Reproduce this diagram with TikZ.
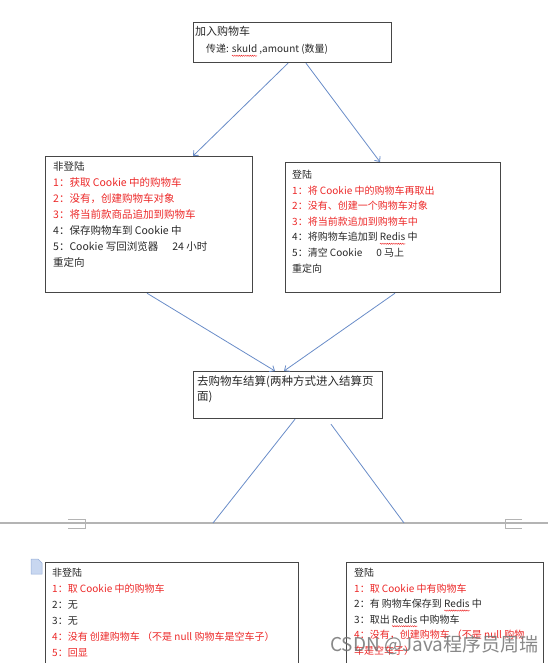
\documentclass[tikz,border=0pt]{standalone}
\usepackage{fontspec}
\setmainfont{Noto Sans CJK SC}
\usetikzlibrary{arrows.meta,calc,decorations.pathmorphing}
\definecolor{txtred}{RGB}{236,40,40}
\definecolor{txtblk}{RGB}{40,40,40}
\definecolor{boxgray}{RGB}{70,70,70}
\definecolor{arrowblue}{RGB}{105,140,200}
\definecolor{sepgray}{RGB}{180,180,180}
\definecolor{iconblue}{RGB}{200,215,240}
\newsavebox\wavebox
\newcommand\rwave[1]{\sbox\wavebox{#1}\rlap{\tikz[overlay,x=1pt,y=1pt]\draw[txtred,line width=0.45pt,decorate,decoration={snake,amplitude=0.6pt,segment length=2.2pt}] (0pt,-2.8pt) -- (\wd\wavebox,-2.8pt);}\usebox\wavebox}
\newcommand\rd[1]{\textcolor{txtred}{#1}}
\tikzset{
  box/.style={draw=boxgray, line width=1.2pt, inner sep=0pt, anchor=north west},
  txt/.style={anchor=north west, inner sep=0pt, align=left, text=txtblk},
  arr/.style={draw=arrowblue, line width=0.8pt, -{Straight Barb[length=4pt,width=7pt]}},
  conn/.style={draw=arrowblue, line width=0.8pt},
  sepline/.style={draw=sepgray, line width=1.6pt},
  brk/.style={draw=sepgray, line width=0.8pt},
}
\begin{document}
\begin{tikzpicture}[x=1pt,y=-1pt]
\useasboundingbox (0,0) rectangle (548,663);
% boxes
\node[box, minimum width=198pt, minimum height=40pt] (top) at (193,22) {};
\node[box, minimum width=207pt, minimum height=136pt] (nl) at (45,156) {};
\node[box, minimum width=215pt, minimum height=130pt] (nr) at (285,162) {};
\node[box, minimum width=189pt, minimum height=47pt] (nm) at (193,371) {};
\node[box, minimum width=253pt, minimum height=115pt] (bl) at (45,562) {};
\node[box, minimum width=197pt, minimum height=115pt] (br) at (346,562) {};
% texts
\node[txt, font=\fontsize{11}{17}\selectfont] (topt) at (195,26.5)
  {加入购物车\\\hspace*{11pt}{\fontsize{10}{17}\selectfont 传递: \rwave{skuId} ,amount (数量)}};
\node[txt, font=\fontsize{10.5}{16}\selectfont] (nlt) at (53,161.5)
  {非登陆\\
   \rd{1：获取 Cookie 中的购物车}\\
   \rd{2：没有，创建购物车对象}\\
   \rd{3：将当前款商品追加到购物车}\\
   4：保存购物车到 Cookie 中\\
   5：Cookie 写回浏览器\hspace{14pt}24 小时\\
   重定向};
\node[txt, font=\fontsize{10}{15.6}\selectfont] (nrt) at (292,170)
  {登陆\\
   \rd{1：将 Cookie 中的购物车再取出}\\
   \rd{2：没有、创建一个购物车对象}\\
   \rd{3：将当前款追加到购物车中}\\
   4：将购物车追加到 \rwave{Redis} 中\\
   5：清空 Cookie\hspace{14pt}0 马上\\
   重定向};
\node[txt, font=\fontsize{11.5}{14.5}\selectfont] (nmt) at (197,376)
  {去购物车结算(两种方式进入结算页\\面)};
\node[txt, font=\fontsize{10}{16}\selectfont] (blt) at (52,568)
  {非登陆\\
   \rd{1：取 Cookie 中的购物车}\\
   2：无\\
   3：无\\
   \rd{4：没有 创建购物车 （不是 null 购物车是空车子）}\\
   \rd{5：回显}};
\node[txt, font=\fontsize{10}{15.6}\selectfont] (brt) at (354,568)
  {登陆\\
   \rd{1：取 Cookie 中有购物车}\\
   2：有 购物车保存到 \rwave{Redis} 中\\
   3：取出 \rwave{Redis} 中购物车\\
   \rd{4：没有，创建购物车 （不是 null 购物}\\
   \rd{车是空车子）}};
% separator
\coordinate (sepW) at (0,523);
\coordinate (sepE) at (548,523);
\coordinate (sepL) at (213,523);
\coordinate (sepR) at (404,523);
\draw[sepline] (sepW) -- (sepE);
\draw[brk] (68,519.5) -- (85,519.5) -- (85,528) -- (68,528);
\draw[brk] (522,519.5) -- (505,519.5) -- (505,528) -- (522,528);
% arrows
\draw[arr] ([xshift=95pt]top.south west) -- ([xshift=148pt]nl.north west);
\draw[arr] ([xshift=113pt]top.south west) -- ([xshift=95pt]nr.north west);
\draw[arr] ([xshift=102pt]nl.south west) -- ([xshift=82pt]nm.north west);
\draw[arr] ([xshift=110pt]nr.south west) -- ([xshift=91pt]nm.north west);
\draw[conn] ([xshift=102pt]nm.south west) -- (sepL);
\draw[conn] ([xshift=138pt,yshift=-5pt]nm.south west) -- (sepR);
% small document icon
\draw[draw=arrowblue!70, fill=iconblue, line width=0.5pt] (31,559) -- (38,559) -- (42,563) -- (42,574) -- (31,574) -- cycle;
% watermark
\node[anchor=west, inner sep=0pt, text=black!55, opacity=0.85, font=\fontsize{19}{19}\selectfont] (wm) at (330,645) {CSDN @Java程序员周瑞};
\end{tikzpicture}
\end{document}
